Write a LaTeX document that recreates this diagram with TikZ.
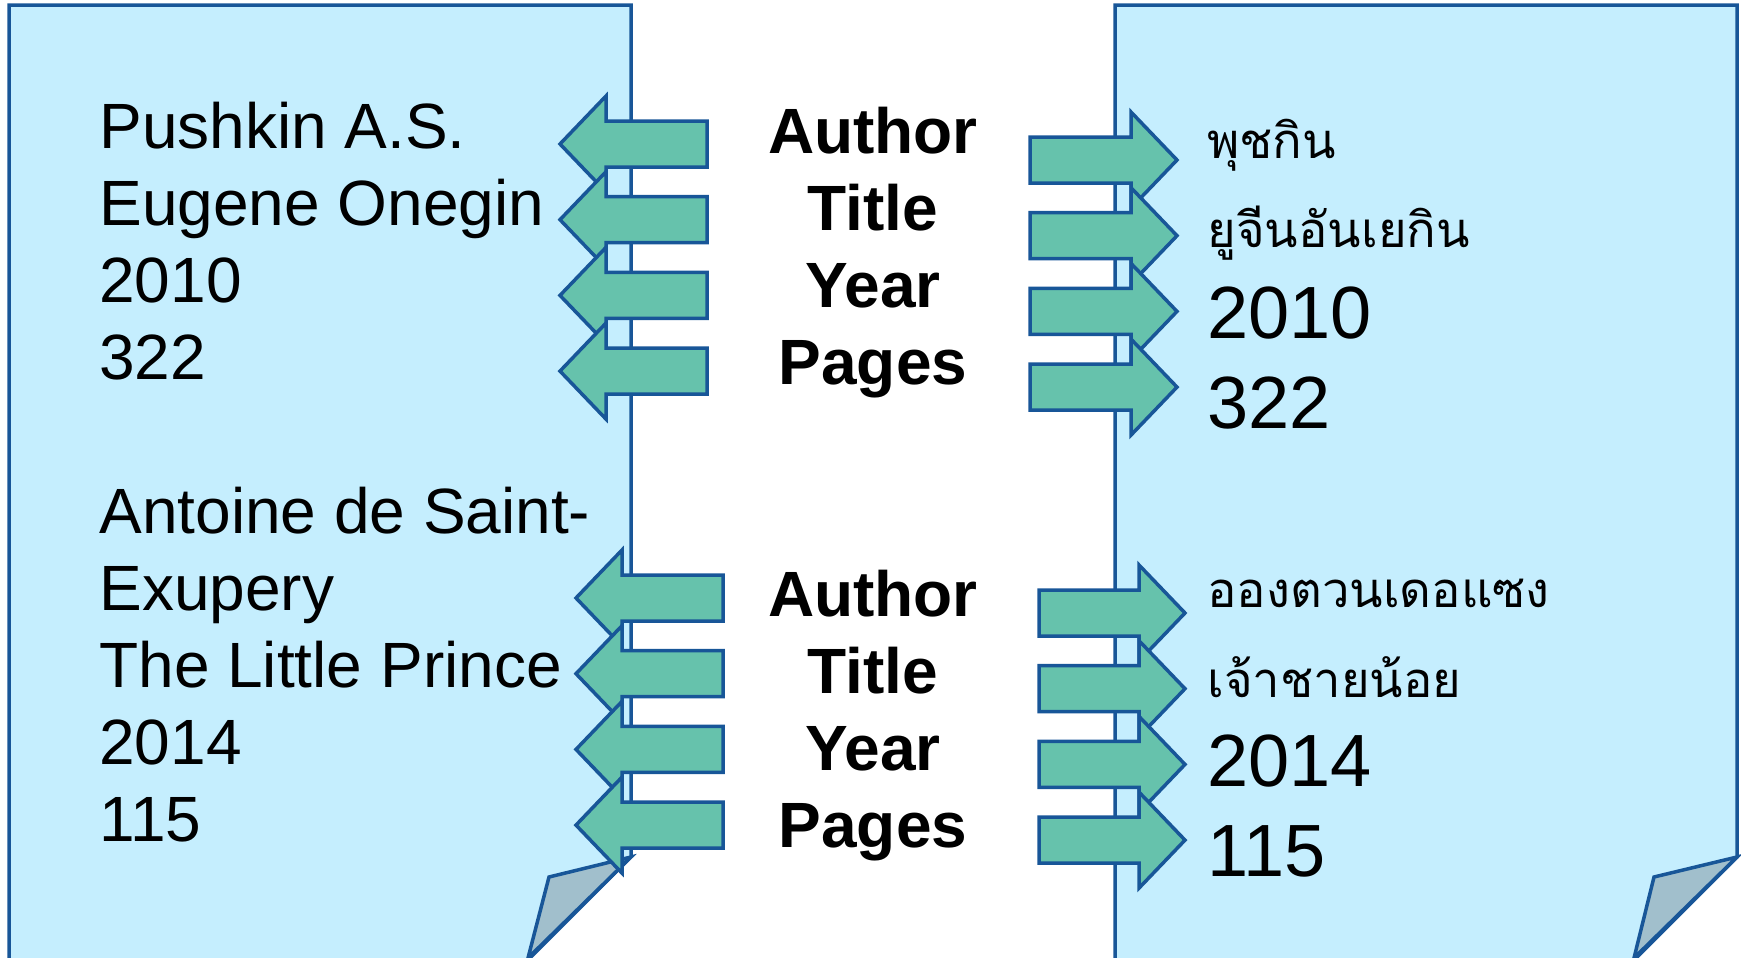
\documentclass[tikz,border=0pt]{standalone}
\usepackage{fontspec}
\setmainfont{Liberation Sans}
\newfontfamily\thaifont[Script=Thai]{Loma}

\definecolor{pageline}{RGB}{24,86,152}
\definecolor{pagefill}{RGB}{197,238,254}
\definecolor{arrowfill}{RGB}{102,194,172}
\definecolor{foldfill}{RGB}{161,191,204}

\tikzset{
  page/.style={draw=pageline, fill=pagefill, line width=1.75pt},
  fold/.style={draw=pageline, fill=foldfill, line width=1.75pt},
  bookarrow/.style={draw=pageline, fill=arrowfill, line width=1.75pt},
  entry/.style={anchor=base west, inner sep=0pt, font=\fontsize{32}{38}\selectfont},
  field/.style={anchor=base, inner sep=0pt, font=\fontsize{32}{38}\selectfont\bfseries},
  bignum/.style={anchor=base west, inner sep=0pt, font=\fontsize{37}{44}\selectfont},
  thai/.style={anchor=base west, inner sep=0pt, font=\fontsize{24.5}{30}\thaifont},
}

\begin{document}
\begin{tikzpicture}[x=0.5pt, y=-0.5pt]
\useasboundingbox (0,0) rectangle (1741,958);

% the two pages
\draw[page] (9,962) -- (9,5) -- (631,5) -- (631,857) -- (526,962);
\draw[fold] (631,857) -- (549,877) -- (528,958) -- cycle;
\draw[page] (1115,962) -- (1115,5) -- (1737,5) -- (1737,857) -- (1632,962);
\draw[fold] (1737,857) -- (1654,877) -- (1634,958) -- cycle;

% left page
\foreach \t [count=\i from 0] in {Pushkin A.S., Eugene Onegin, 2010, 322}
  \node[entry] (bookA\i) at (99,{148+77*\i}) {\t};
\foreach \t [count=\i from 0] in {Antoine de Saint-, Exupery, The Little Prince, 2014, 115}
  \node[entry] (bookB\i) at (99,{533+77*\i}) {\t};

% fields in the middle
\foreach \t [count=\i from 0] in {Author, Title, Year, Pages} {
  \node[field] (fieldA\i) at (873,{153+77*\i}) {\t};
  \node[field] (fieldB\i) at (873,{616+77*\i}) {\t};
}

% right page
\node[thai]   (thaiA0) at (1207,158) {พุชกิน};
\node[thai]   (thaiA1) at (1207,247) {ยูจีนอันเยกิน};
\node[bignum] (thaiA2) at (1207,338) {2010};
\node[bignum] (thaiA3) at (1207,428) {322};
\node[thai]   (thaiB0) at (1207,607) {อองตวนเดอแซง};
\node[thai]   (thaiB1) at (1207,697) {เจ้าชายน้อย};
\node[bignum] (thaiB2) at (1207,786) {2014};
\node[bignum] (thaiB3) at (1207,876) {115};

% arrows: tip / back of head / tail / first centre
\foreach \tp/\hb/\tl/\y in {560/606/707/144, 576/622/723/598, 1177/1131/1030/160, 1185/1139/1039/613}
  \foreach \k in {0,...,3} {
    \pgfmathsetmacro\ym{\y+75.7*\k}
    \draw[bookarrow] (\tp,\ym) -- (\hb,\ym-48) -- (\hb,\ym-23) -- (\tl,\ym-23)
      -- (\tl,\ym+23) -- (\hb,\ym+23) -- (\hb,\ym+48) -- cycle;
  }
\end{tikzpicture}
\end{document}
